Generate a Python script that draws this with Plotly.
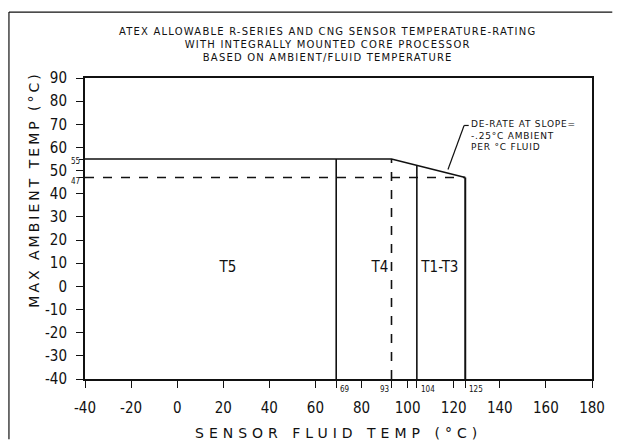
import plotly.graph_objects as go

# ---- data ----
x_ticks = [-40, -20, 0, 20, 40, 60, 80, 100, 120, 140, 160, 180]
x_tick_text = ["-40", "-20", "0", "20", "40", "60", "80", "100", "120", "140", "160", "180"]
y_ticks = [-40, -30, -20, -10, 0, 10, 20, 30, 40, 50, 60, 70, 80, 90]
y_tick_text = ["-40", "-30", "-20", "-10", "0", "10", "20", "30", "40", "50", "60", "70", "80", "90"]
fluid_marks = [69, 93, 104, 125]
ambient_marks = [55, 47]

limit_x = [-40, 93, 125]
limit_y = [55, 55, 47]
derate_x = [-40, 125]
derate_y = [47, 47]
t5_x = [69, 69]; t5_y = [-40, 55]
t4_x = [93, 93]; t4_y = [-40, 55]
t13_x = [104, 104]; t13_y = [-40, 52.25]
end_x = [125, 125]; end_y = [-40, 47]

zone_names = ["T5", "T4", "T1-T3"]
zone_x = [22, 88, 114]
zone_y = [8, 8, 8]

title_lines = ["ATEX ALLOWABLE R-SERIES AND CNG SENSOR TEMPERATURE-RATING",
               "WITH INTEGRALLY MOUNTED CORE PROCESSOR",
               "BASED ON AMBIENT/FLUID TEMPERATURE"]
note_lines = ["DE-RATE AT SLOPE=", "-.25°C AMBIENT", "PER °C FLUID"]

FONT = "DejaVu Sans Condensed, Liberation Sans Narrow, DejaVu Sans"
WIDE = "DejaVu Sans"
blk = "#111111"


def spaced(s, ls):
    return '<span style="letter-spacing:%spx">%s</span>' % (ls, s)


fig = go.Figure()
line = dict(color=blk, width=1.6)
dline = dict(color=blk, width=1.6, dash="dash")
fig.add_trace(go.Scatter(x=limit_x, y=limit_y, mode="lines", line=line))
fig.add_trace(go.Scatter(x=derate_x, y=derate_y, mode="lines", line=dict(color=blk, width=1.4, dash="dash")))
fig.add_trace(go.Scatter(x=t5_x, y=t5_y, mode="lines", line=line))
fig.add_trace(go.Scatter(x=t4_x, y=t4_y, mode="lines", line=dline))
fig.add_trace(go.Scatter(x=t13_x, y=t13_y, mode="lines", line=line))
fig.add_trace(go.Scatter(x=end_x, y=end_y, mode="lines", line=dict(color=blk, width=2)))
fig.add_trace(go.Scatter(x=zone_x, y=zone_y, mode="text", text=zone_names,
                         textfont=dict(family=FONT, size=15, color=blk)))

ann = []
ann.append(dict(xref="paper", yref="paper", x=0.479, y=1.18, yanchor="top", xanchor="center",
                text="<br>".join(spaced(t, 1.2) for t in title_lines), showarrow=False,
                font=dict(family=WIDE, size=10, color=blk)))
ann.append(dict(x=126.5, y=73, xanchor="left", yanchor="top", align="left",
                text="<br>".join(spaced(t, 0.8) for t in note_lines), showarrow=False,
                font=dict(family=WIDE, size=9, color=blk)))
for v in ambient_marks:
    ann.append(dict(xref="paper", x=0, y=v, xanchor="right", yanchor="middle", xshift=-3,
                    yshift=(-4 if v == 47 else -2),
                    text=str(v), showarrow=False, font=dict(family=FONT, size=8, color=blk)))
for v in fluid_marks:
    ann.append(dict(x=v, yref="paper", y=0, xanchor="left" if v != 93 else "right",
                    yanchor="top", yshift=-4, xshift=(2 if v != 93 else -1),
                    text=str(v), showarrow=False, font=dict(family=FONT, size=8, color=blk)))
ann.append(dict(xref="paper", yref="paper", x=0.5, y=-0.178, xanchor="center", yanchor="middle",
                text=spaced("SENSOR FLUID TEMP (°C)", 5), showarrow=False,
                font=dict(family=WIDE, size=14, color=blk)))
ann.append(dict(xref="paper", yref="paper", x=-0.1, y=0.63, xanchor="center", yanchor="middle",
                textangle=-90,
                text=spaced("MAX AMBIENT TEMP (°C)", 3), showarrow=False,
                font=dict(family=WIDE, size=14, color=blk)))
fig.update_layout(annotations=ann)

# leader line of the note
fig.add_shape(type="line", x0=117.5, y0=50.5, x1=124.5, y1=69.5, line=dict(color=blk, width=1.2))
fig.add_shape(type="line", x0=124.5, y0=69.5, x1=126.5, y1=69.5, line=dict(color=blk, width=1.2))
# outer document frame
fig.add_shape(type="line", xref="paper", yref="paper", x0=-0.150, y0=1.219, x1=1.04, y1=1.219,
              line=dict(color=blk, width=1.2))
fig.add_shape(type="line", xref="paper", yref="paper", x0=-0.150, y0=1.219, x1=-0.150, y1=-0.2,
              line=dict(color=blk, width=1.2))

# the page body adds an 8px margin, so the figure is sized to fit inside it
fig.update_layout(
    width=606, height=432,
    margin=dict(l=77, r=22, t=70, b=61),
    paper_bgcolor="white", plot_bgcolor="white",
    showlegend=False,
    xaxis=dict(range=[-40, 180], tickmode="array", tickvals=x_ticks, ticktext=x_tick_text,
               automargin=False,
               ticks="outside", ticklen=7, tickwidth=1, tickcolor=blk,
               ticklabelstandoff=7,
               showline=True, linecolor=blk, linewidth=2, mirror=True,
               showgrid=False, zeroline=False,
               tickfont=dict(family=FONT, size=15, color=blk),
               minor=dict(tickmode="array", tickvals=fluid_marks, ticks="outside",
                          ticklen=7, tickcolor=blk)),
    yaxis=dict(range=[-40, 90], tickmode="array", tickvals=y_ticks, ticktext=y_tick_text,
               automargin=False,
               ticks="outside", ticklen=7, tickwidth=1, tickcolor=blk,
               ticklabelstandoff=6,
               showline=True, linecolor=blk, linewidth=2, mirror=True,
               showgrid=False, zeroline=False,
               tickfont=dict(family=FONT, size=15, color=blk),
               minor=dict(tickmode="array", tickvals=ambient_marks, ticks="outside",
                          ticklen=4, tickcolor=blk)),
)

fig.write_html("out.html")
